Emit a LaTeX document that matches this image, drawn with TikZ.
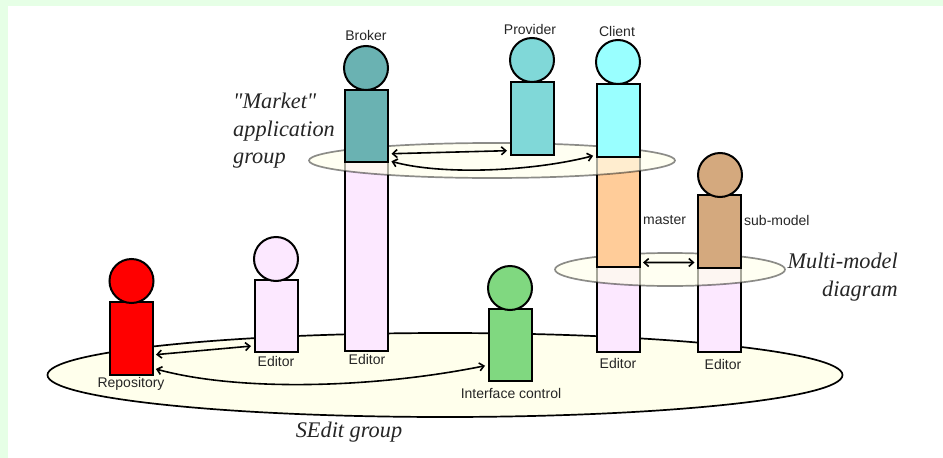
\documentclass[tikz,border=0pt]{standalone}
\usepackage{fontspec}
\setmainfont{Liberation Sans}
\newfontfamily\noteface{Liberation Serif}
\usetikzlibrary{shapes}
\usetikzlibrary{arrows.meta}

\definecolor{pagegreen}{HTML}{E6FFE6}
\definecolor{groupfill}{HTML}{FFFFEC}
\definecolor{editorpink}{HTML}{FCE8FF}
\definecolor{repored}{HTML}{FF0000}
\definecolor{interfacegreen}{HTML}{80D880}
\definecolor{brokerteal}{HTML}{6AB2B2}
\definecolor{providerteal}{HTML}{80D8D8}
\definecolor{clientcyan}{HTML}{99FFFF}
\definecolor{masterorange}{HTML}{FFCC99}
\definecolor{submodeltan}{HTML}{D4A97E}

\tikzset{
  part/.style={draw=black, line width=2pt, rectangle, minimum width=43pt, inner sep=0pt},
  head/.style={draw=black, line width=2pt, circle, minimum size=44pt, inner sep=0pt},
  maingroup/.style={draw=black, line width=1.7pt, fill=groupfill, ellipse, inner sep=0pt},
  subgroup/.style={draw=black, draw opacity=.45, line width=1.7pt, fill=groupfill, fill opacity=.65, ellipse, inner sep=0pt},
  link/.style={black, line width=1.6pt, {Straight Barb[length=4.5pt,width=8pt]}-{Straight Barb[length=4.5pt,width=8pt]}, shorten <=2.5pt, shorten >=2.5pt},
  caption/.style={font=\fontsize{14}{16}\selectfont, text=black!85, inner sep=0pt},
  note/.style={font=\noteface\itshape\fontsize{22.3}{27.5}\selectfont, text=black!85, inner sep=0pt}
}

\begin{document}
\begin{tikzpicture}[x=1pt,y=-1pt]
\useasboundingbox (0,0) rectangle (943,458);
%page
\fill[pagegreen] (0,0) rectangle (943,458);
\fill[white] (8,6) rectangle (943,458);

%SEdit group
\node[maingroup, minimum width=795pt, minimum height=84pt](sedit) at (445,375){};

%editor columns
\node[part, fill=editorpink, minimum height=189pt](brokereditor) at (366.5,256.5){};
\node[part, fill=editorpink, minimum height=85pt](clienteditor) at (618,309.5){};
\node[part, fill=editorpink, minimum height=84pt](submodeleditor) at (719.5,310){};

%multi-model group
\node[subgroup, minimum width=230pt, minimum height=33pt](multimodel) at (670,269.5){};
\node[part, fill=masterorange, minimum height=110pt](master) at (618,212){};
\node[part, fill=submodeltan, minimum height=73pt](submodel) at (719.5,231.5){};

%market group
\node[subgroup, minimum width=366pt, minimum height=35pt](market) at (492,160.5){};

%components
\node[part, fill=brokerteal, minimum height=72pt](broker) at (366.5,126){};
\node[part, fill=providerteal, minimum height=73pt](provider) at (532,118.5){};
\node[part, fill=clientcyan, minimum height=73pt](client) at (618,120.5){};
\node[part, fill=repored, minimum height=73pt](repository) at (131,338.5){};
\node[part, fill=editorpink, minimum height=72pt](editor) at (276,316){};
\node[part, fill=interfacegreen, minimum height=72pt](interface) at (510,345){};

%heads
\node[head, fill=brokerteal](brokerhead) at (366,68){};
\node[head, fill=providerteal](providerhead) at (532,60){};
\node[head, fill=clientcyan](clienthead) at (618,62){};
\node[head, fill=submodeltan](submodelhead) at (720,175){};
\node[head, fill=repored](repositoryhead) at (131.5,281){};
\node[head, fill=editorpink](editorhead) at (276,259){};
\node[head, fill=interfacegreen](interfacehead) at (510,288){};

%connectors
\draw[link] (repository.-36.9) -- (editor.233.8);
\draw[link] (repository.-53.3) .. controls (240,392) and (375,388) .. (interface.222.3);
\draw[link] (broker.-51.8) -- (provider.235);
\draw[link] (broker.-57) .. controls (440,175) and (530,172) .. (client.237.5);
\draw[link] (master.-66) -- (submodel.234.4);

%labels
\node[caption](brokerlabel) at (366,35){Broker};
\node[caption](providerlabel) at (530,29){Provider};
\node[caption](clientlabel) at (617,31){Client};
\node[caption, anchor=west](masterlabel) at (643,220){master};
\node[caption, anchor=west](submodellabel) at (744,220){sub-model};
\node[caption](repositorylabel) at (131,384){Repository};
\node[caption](editorlabel) at (276,361){Editor};
\node[caption](brokereditorlabel) at (367,359){Editor};
\node[caption](clienteditorlabel) at (618,363){Editor};
\node[caption](submodeleditorlabel) at (723,364){Editor};
\node[caption](interfacelabel) at (511,393){Interface control};

\node[note, anchor=north west, align=left](marketnote) at (233,93){"Market"\\application\\group};
\node[note, anchor=north east, align=right](multinote) at (898,253){Multi-model\\diagram};
\node[note](seditnote) at (349,432){SEdit group};
\end{tikzpicture}
\end{document}
